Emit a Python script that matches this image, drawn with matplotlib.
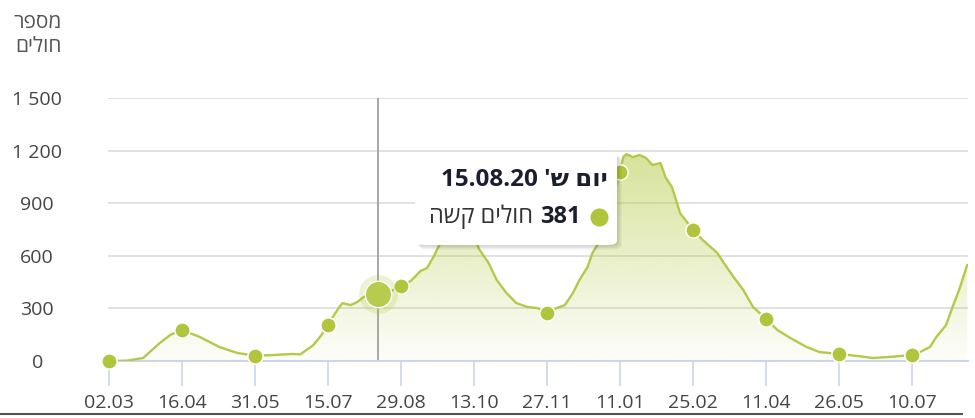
import numpy as np
import pandas as pd
import matplotlib
matplotlib.use('Agg')
import matplotlib.pyplot as plt
import matplotlib.dates as mdates
from matplotlib.patches import FancyBboxPatch, Polygon
from matplotlib.colors import to_rgb
from matplotlib.lines import Line2D

plt.rcParams['font.family'] = ['Open Sans', 'DejaVu Sans']


def rtl(s):
    # matplotlib has no bidi support -> give Hebrew runs in visual order
    return s[::-1]


# serious cases
dates = ['2020-03-02', '2020-03-13', '2020-03-23', '2020-04-02', '2020-04-09',
         '2020-04-16', '2020-04-27', '2020-05-09', '2020-05-20', '2020-05-31',
         '2020-06-11', '2020-06-23', '2020-06-28', '2020-07-06', '2020-07-11',
         '2020-07-15', '2020-07-18', '2020-07-22', '2020-07-24', '2020-07-29',
         '2020-08-02', '2020-08-06', '2020-08-15', '2020-08-22', '2020-08-29',
         '2020-09-04', '2020-09-10', '2020-09-14', '2020-09-18', '2020-09-21',
         '2020-09-25', '2020-09-29', '2020-10-03', '2020-10-07', '2020-10-13',
         '2020-10-16', '2020-10-22', '2020-10-27', '2020-11-02', '2020-11-08',
         '2020-11-15', '2020-11-21', '2020-11-27', '2020-12-03', '2020-12-08',
         '2020-12-13', '2020-12-17', '2020-12-22', '2020-12-25', '2020-12-30',
         '2021-01-05', '2021-01-11', '2021-01-13', '2021-01-15', '2021-01-19',
         '2021-01-23', '2021-01-27', '2021-01-31', '2021-02-05', '2021-02-08',
         '2021-02-12', '2021-02-14', '2021-02-17', '2021-02-25', '2021-03-03',
         '2021-03-12', '2021-03-16', '2021-03-22', '2021-03-28', '2021-04-03',
         '2021-04-11', '2021-04-18', '2021-04-26', '2021-05-06', '2021-05-14',
         '2021-05-26', '2021-06-06', '2021-06-16', '2021-06-26', '2021-07-10',
         '2021-07-15', '2021-07-21', '2021-07-25', '2021-07-31', '2021-08-04',
         '2021-08-08', '2021-08-13']
values = [0, 2, 17, 100, 150,
          177, 137, 80, 46, 30,
          34, 40, 38, 91, 148,
          205, 251, 308, 330, 319,
          336, 365, 381, 394, 430,
          456, 513, 530, 593, 650,
          720, 790, 840, 820, 720,
          640, 559, 462, 388, 331,
          308, 302, 275, 302, 319,
          388, 462, 536, 616, 690,
          880, 1078, 1163, 1180, 1163,
          1175, 1158, 1118, 1129, 1049,
          992, 935, 844, 747, 690,
          616, 559, 479, 405, 308,
          240, 177, 131, 80, 51,
          40, 29, 17, 23, 34,
          51, 80, 137, 205, 308,
          405, 547]

tick_dates = ['2020-03-02', '2020-04-16', '2020-05-31', '2020-07-15', '2020-08-29',
              '2020-10-13', '2020-11-27', '2021-01-11', '2021-02-25', '2021-04-11',
              '2021-05-26', '2021-07-10']
yticks = [0, 300, 600, 900, 1200, 1500]
ytick_labels = ['0', '300', '600', '900', '1 200', '1 500']

hover_date = '2020-08-15'
hover_value = 381
ylabel_lines = ['מספר', 'חולים']
tooltip_day = "יום ש'"
series_name = 'חולים קשה'

line_color = '#b4c94a'
dot_color = '#b0c53c'

s = pd.Series(values, index=pd.to_datetime(dates))
x = mdates.date2num(s.index.to_pydatetime())
y = s.values.astype(float)
tick_x = mdates.date2num(pd.to_datetime(tick_dates).to_pydatetime())

fig = plt.figure(figsize=(9.75, 4.18), dpi=100)
ax = fig.add_axes([108 / 975, 57 / 418, 860 / 975, 263 / 418])

x0 = x[0] - 0.6
x1 = x[0] + 529.5

# gradient area under the line
poly = Polygon(np.column_stack([np.r_[x[0], x, x[-1]], np.r_[0, y, 0]]),
               closed=True, facecolor='none', edgecolor='none')
ax.add_patch(poly)
grad = np.zeros((256, 1, 4))
grad[:, 0, :3] = to_rgb('#b5cc48')
grad[:, 0, 3] = np.linspace(0.03, 0.55, 256)
im = ax.imshow(grad, extent=[x0, x1, 0, 1180], origin='lower', aspect='auto', zorder=1)
im.set_clip_path(poly)

ax.plot(x, y, color=line_color, lw=1.7, zorder=3, solid_joinstyle='round')

# markers on the tick dates
mk = s.loc[pd.to_datetime(tick_dates)]
ax.plot(tick_x, mk.values, 'o', ms=11, color=dot_color, mec='white', mew=1.1,
        zorder=4, clip_on=False)

# hovered point
hx = mdates.date2num(pd.Timestamp(hover_date).to_pydatetime())
ax.axvline(hx, color='#a0a0a0', lw=1.3, zorder=2)
ax.plot([hx], [hover_value], 'o', ms=28, color=dot_color, alpha=0.22, mew=0, zorder=4)
ax.plot([hx], [hover_value], 'o', ms=19, color='#b7cb4c', mec='white', mew=1.0, zorder=5)

ax.set_xlim(x0, x1)
ax.set_ylim(0, 1500)
ax.set_yticks(yticks)
ax.set_yticklabels(ytick_labels)
ax.set_xticks(tick_x)
ax.xaxis.set_major_formatter(mdates.DateFormatter('%d.%m'))
ax.grid(axis='y', color='#dedede', lw=1.3)
ax.set_axisbelow(True)
for side in ['top', 'right', 'left']:
    ax.spines[side].set_visible(False)
ax.spines['bottom'].set_color('#ccd6eb')
ax.spines['bottom'].set_linewidth(1.5)
ax.spines['bottom'].set_zorder(2.5)
ax.tick_params(axis='x', length=18, width=1.2, color='#ccd6eb', labelsize=14,
               labelcolor='#444444', pad=6)
ax.tick_params(axis='y', length=0, labelsize=14, labelcolor='#444444', pad=51)
for lab in ax.get_yticklabels():
    lab.set_horizontalalignment('center')

# y axis title (two lines, right aligned)
fig.text(62 / 975, 1 - 23 / 418, rtl(ylabel_lines[0]), ha='right', va='center',
         fontsize=15, color='#555555')
fig.text(62 / 975, 1 - 47 / 418, rtl(ylabel_lines[1]), ha='right', va='center',
         fontsize=15, color='#555555')

# tooltip
bx, by, bw, bh = 415 / 975, 1 - 245 / 418, 202 / 975, 93 / 418
for i, a in enumerate([0.05, 0.05, 0.06]):
    off = (i + 1) * 1.5
    sh = FancyBboxPatch((bx + off / 975, by - off / 418), bw, bh,
                        boxstyle='round,pad=0,rounding_size=0.01',
                        transform=fig.transFigure, facecolor='black', alpha=a,
                        edgecolor='none', zorder=8)
    fig.patches.append(sh)
box = FancyBboxPatch((bx, by), bw, bh, boxstyle='round,pad=0,rounding_size=0.01',
                     transform=fig.transFigure, facecolor='white', edgecolor='none',
                     zorder=9)
fig.patches.append(box)

title = pd.Timestamp(hover_date).strftime('%d.%m.%y') + ' ' + rtl(tooltip_day)
fig.text(608 / 975, 1 - 180 / 418, title, ha='right', va='center', fontsize=17.5,
         fontweight='bold', color='#1b1e2f', zorder=10)
fig.add_artist(Line2D([599 / 975], [1 - 217 / 418], marker='o', ms=13,
                      color=dot_color, mew=0, transform=fig.transFigure, zorder=10))
fig.text(581 / 975, 1 - 217 / 418, str(hover_value), ha='right', va='center',
         fontsize=17, fontweight='bold', color='#1b1e2f', zorder=10)
fig.text(533 / 975, 1 - 217 / 418, rtl(series_name), ha='right', va='center',
         fontsize=17, color='#333333', zorder=10)

# dark frame line at the bottom
fig.add_artist(Line2D([0, 962 / 975], [1 - 414 / 418] * 2, color='#555555', lw=1.5,
                      transform=fig.transFigure))

fig.savefig('out.png', dpi=100)
